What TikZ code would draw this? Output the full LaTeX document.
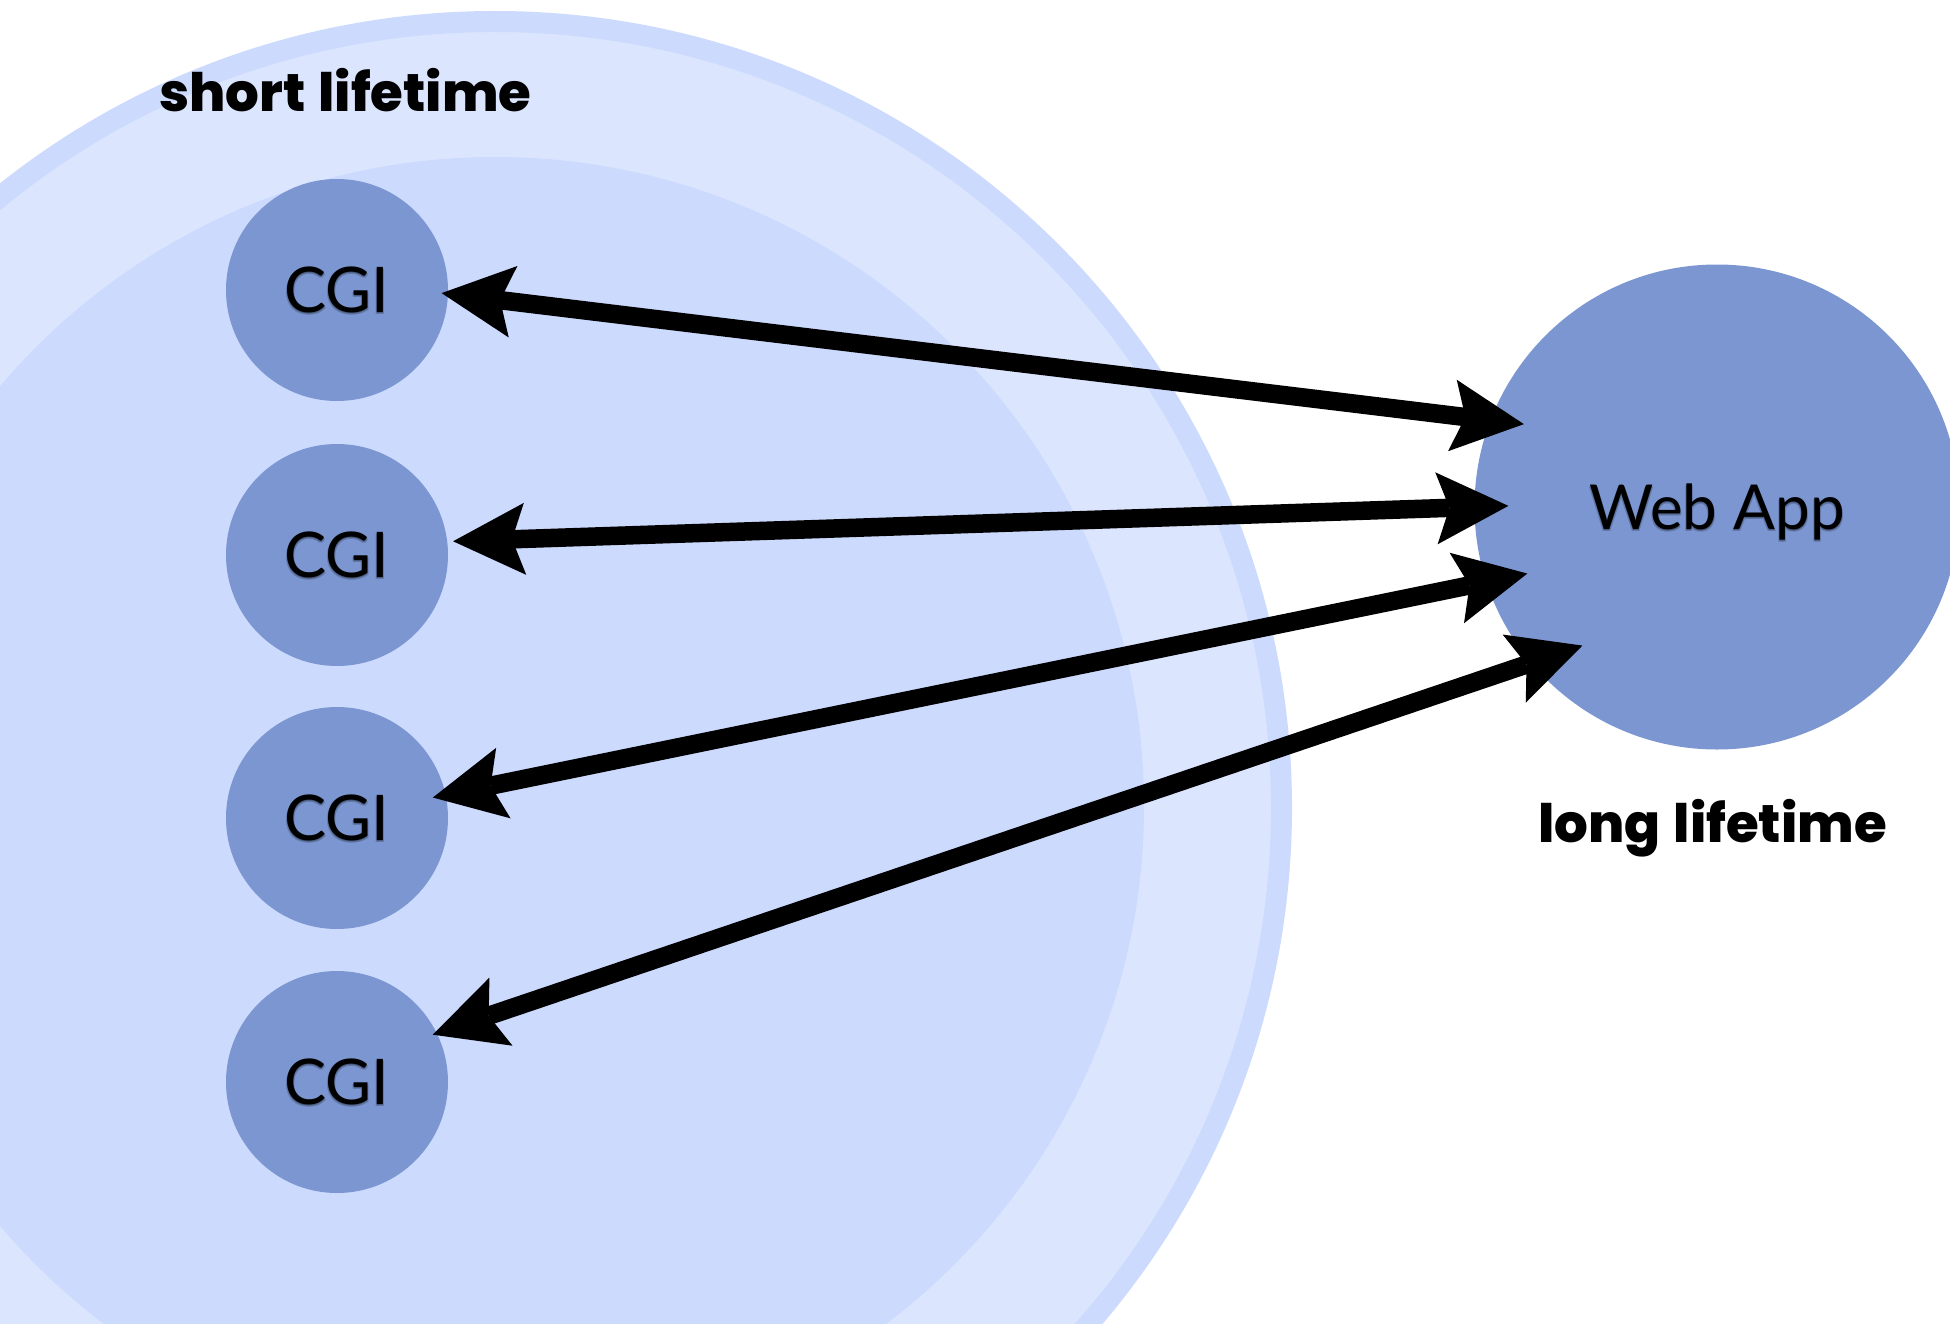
\documentclass[tikz,border=0pt]{standalone}
\usepackage{fontspec}
\usetikzlibrary{arrows.meta}

\newfontfamily\tagfont{Poppins}[BoldFont={Poppins ExtraBold}, WordSpace=1.3]
\newfontfamily\namefont{Lato}

\definecolor{ringline}{HTML}{CCDAFD}
\definecolor{outerfill}{HTML}{DCE5FE}
\definecolor{innerfill}{HTML}{CCDAFD}
\definecolor{procfill}{HTML}{7B96D0}

% dark soft halo under process names
\newcommand\glow[1]{\leavevmode
  \rlap{\textcolor{procfill!80!black}{\hspace{-1pt}\raisebox{-2pt}{#1}}}%
  \rlap{\textcolor{procfill!80!black}{\hspace{1pt}\raisebox{-2pt}{#1}}}%
  \rlap{\textcolor{procfill!60!black}{\raisebox{-1pt}{#1}}}%
  #1}

\begin{document}
\begin{tikzpicture}[x=1pt,y=-1pt,
  proc/.style={circle, fill=procfill, draw=none, outer sep=0pt, inner sep=0pt,
    minimum size=222pt, text depth=0pt,
    font=\namefont\fontsize{63}{63}\selectfont},
  tip/.tip={Stealth[length=72pt,width=72pt,inset=13pt,line width=0pt]},
  link/.style={line width=18.5pt, tip-tip},
  tag/.style={font=\tagfont\bfseries\fontsize{53}{53}\selectfont,
    inner sep=0pt, anchor=base west}]
\useasboundingbox (0,0) rectangle (1950,1324);

% nested lifetime zones
\begin{scope}
  \clip (0,0) rectangle (1950,1324);
  \path[fill=outerfill, draw=ringline, line width=21pt] (495,808) circle[radius=786.5];
  \path[fill=innerfill] (495,806) circle[radius=649];
\end{scope}

% processes
\node[proc] (c1) at (337,290)  {\glow{CGI}};
\node[proc] (c2) at (337,555)  {\glow{CGI}};
\node[proc] (c3) at (337,818)  {\glow{CGI}};
\node[proc] (c4) at (337,1082) {\glow{CGI}};
\node[proc, minimum size=485pt, font=\namefont\fontsize{62}{62}\selectfont]
  (web) at (1717,507) {\glow{Web App}};

% labels
\node[tag] (short) at (159,112) {short lifetime};
\node[tag] (long) at (1538,842) {long lifetime};

% two-way connections
\draw[link, shorten <=-6.4pt, shorten >=-33.5pt] (c1.-2.2) -- (web.159.8);
\draw[link, shorten <=5.9pt,  shorten >=-33.9pt] (c2.7.4)  -- (web.180.4);
\draw[link, shorten <=-13pt,  shorten >=-41.8pt] (c3.12.8) -- (web.198.8);
\draw[link, shorten <=-4.2pt, shorten >=-54pt]   (c4.26.4) -- (web.220.2);
\end{tikzpicture}
\end{document}
